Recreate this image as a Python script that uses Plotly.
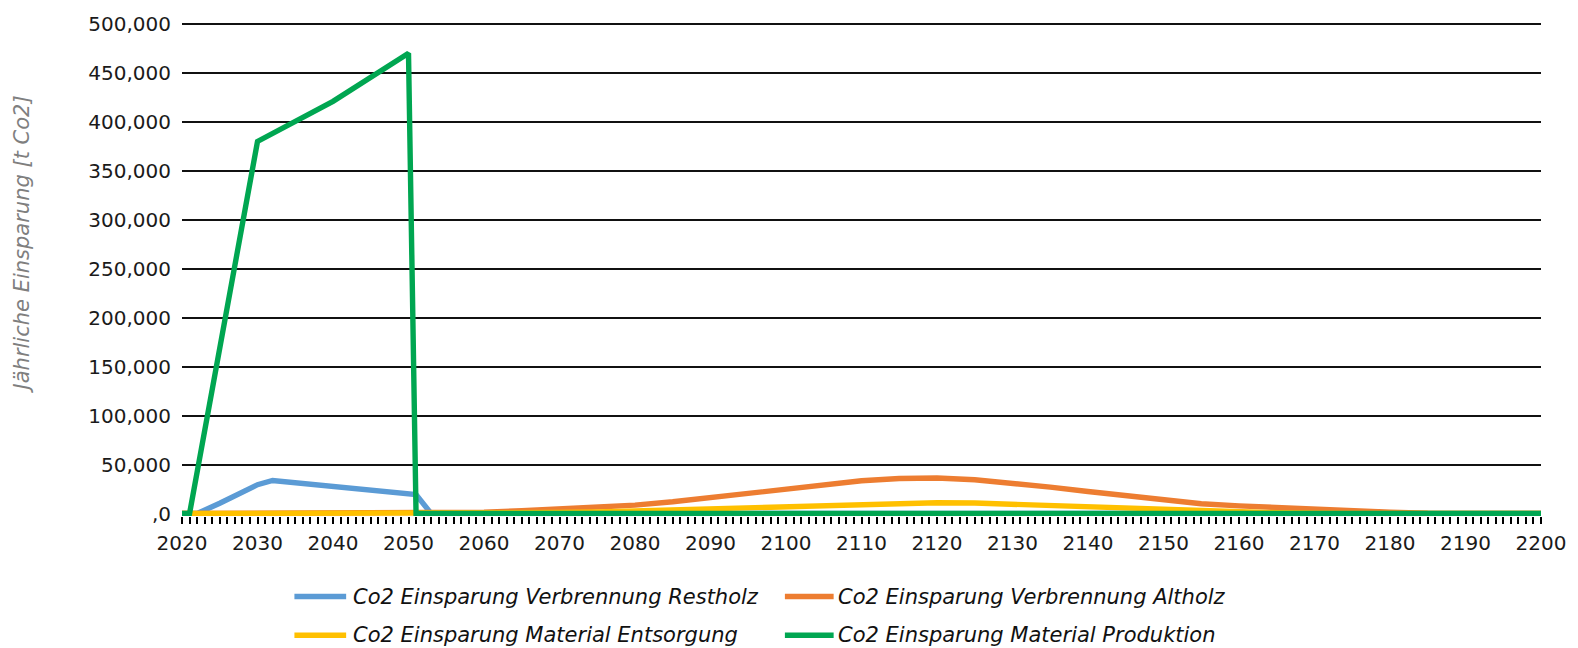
import plotly.graph_objects as go

# --- data -------------------------------------------------------------
restholz_years = [2020, 2022, 2025, 2028, 2030, 2032, 2035, 2038, 2043, 2047, 2051, 2053, 2200]
restholz_vals = [0, 0, 10500, 22500, 29500, 33800, 31400, 29200, 25800, 23000, 19300, 0, 0]

altholz_years = [2020, 2055, 2060, 2065, 2070, 2075, 2080, 2085, 2090, 2095, 2100, 2105,
                 2110, 2115, 2120, 2125, 2130, 2135, 2140, 2145, 2150, 2155, 2160, 2165,
                 2170, 2175, 2180, 2185, 2190, 2200]
altholz_vals = [0, 300, 1500, 2800, 4300, 6200, 8600, 12000, 16300, 20800, 25000, 30000,
                33500, 35800, 36300, 34500, 31200, 27000, 22500, 18000, 13200, 10000, 7800, 5900,
                4300, 3000, 1500, 400, 0, 0]

entsorgung_years = [2020, 2060, 2065, 2070, 2075, 2080, 2085, 2090, 2095, 2100, 2105, 2110,
                    2115, 2120, 2125, 2130, 2135, 2140, 2145, 2150, 2155, 2160, 2165, 2170,
                    2175, 2200]
entsorgung_vals = [0, 0, 500, 1000, 1700, 2700, 3800, 5000, 6300, 7600, 8700, 9800,
                   10600, 11000, 10700, 9500, 8000, 6300, 5000, 3800, 2500, 1500, 800, 300,
                   0, 0]

produktion_years = [2020, 2021, 2030, 2040, 2050, 2051, 2200]
produktion_vals = [0, 0, 380000, 421000, 470000, 0, 0]

series_names = [
    "Co2 Einsparung Verbrennung Restholz",
    "Co2 Einsparung Verbrennung Altholz",
    "Co2 Einsparung Material Entsorgung",
    "Co2 Einsparung Material Produktion",
]
series_colors = ["#5B9BD5", "#ED7D31", "#FFC000", "#00A651"]

y_tick_vals = [0, 50000, 100000, 150000, 200000, 250000, 300000, 350000, 400000, 450000, 500000]
y_tick_text = [",0", "50,000", "100,000", "150,000", "200,000", "250,000",
               "300,000", "350,000", "400,000", "450,000", "500,000"]
x_tick_vals = list(range(2020, 2201, 10))
x_tick_text = [str(v) for v in x_tick_vals]

# --- figure -----------------------------------------------------------
W, H = 1578, 648
ML, MR, MT, MB = 182, 30, 19, 132

fig = go.Figure()
all_series = [
    (restholz_years, restholz_vals),
    (altholz_years, altholz_vals),
    (entsorgung_years, entsorgung_vals),
    (produktion_years, produktion_vals),
]
for (xs, ys), name, color in zip(all_series, series_names, series_colors):
    fig.add_trace(go.Scatter(
        x=xs, y=ys, mode="lines", name=name,
        line=dict(color=color, width=5.4),
        showlegend=False,
    ))

FAMILY = "DejaVu Sans, Roboto, sans-serif"
TICK_FONT = dict(family=FAMILY, size=20, color="#1a1a1a")

fig.update_layout(
    width=W, height=H,
    margin=dict(l=ML, r=MR, t=MT, b=MB, pad=0),
    plot_bgcolor="white", paper_bgcolor="white",
    font=TICK_FONT,
    xaxis=dict(
        range=[2020, 2200],
        tickmode="array", tickvals=x_tick_vals, ticktext=x_tick_text,
        ticks="outside", ticklen=7, tickwidth=1.5, tickcolor="black",
        minor=dict(dtick=1, tick0=2020, ticks="outside", ticklen=7,
                   tickwidth=1.5, tickcolor="black", showgrid=False),
        showgrid=False, zeroline=False,
        showline=False,
        tickfont=TICK_FONT,
        ticklabelstandoff=2,
    ),
    yaxis=dict(
        range=[-2500, 502000],
        tickmode="array", tickvals=y_tick_vals, ticktext=y_tick_text,
        showgrid=True, gridcolor="#111111", gridwidth=1.6,
        zeroline=False, showline=False, ticks="",
        tickfont=TICK_FONT,
        ticklabelstandoff=10,
    ),
)

plot_w = W - ML - MR
plot_h = H - MT - MB


def px_x(px):
    return (px - ML) / plot_w


def px_y(py):
    return (H - MB - py) / plot_h


# axis title
fig.add_annotation(
    text="Jährliche Einsparung [t Co2]", textangle=-90,
    xref="paper", yref="paper", x=px_x(21), y=px_y(243),
    xanchor="center", yanchor="middle", showarrow=False,
    font=dict(family=FAMILY, size=21, color="#7f7f7f", style="italic"),
)

# legend: two rows, two columns
legend_pos = [
    (295, 347, 352, 597),
    (788, 837, 839, 597),
    (295, 347, 352, 636),
    (788, 837, 839, 636),
]
for (x0, x1, xt, yy), name, color in zip(legend_pos, series_names, series_colors):
    fig.add_shape(
        type="line", xref="paper", yref="paper",
        x0=px_x(x0), x1=px_x(x1), y0=px_y(yy), y1=px_y(yy),
        line=dict(color=color, width=5.4),
    )
    fig.add_annotation(
        text=name, xref="paper", yref="paper", x=px_x(xt), y=px_y(yy),
        xanchor="left", yanchor="middle", showarrow=False,
        font=dict(family=FAMILY, size=21, color="#111111", style="italic"),
    )

fig.write_html("out.html")
